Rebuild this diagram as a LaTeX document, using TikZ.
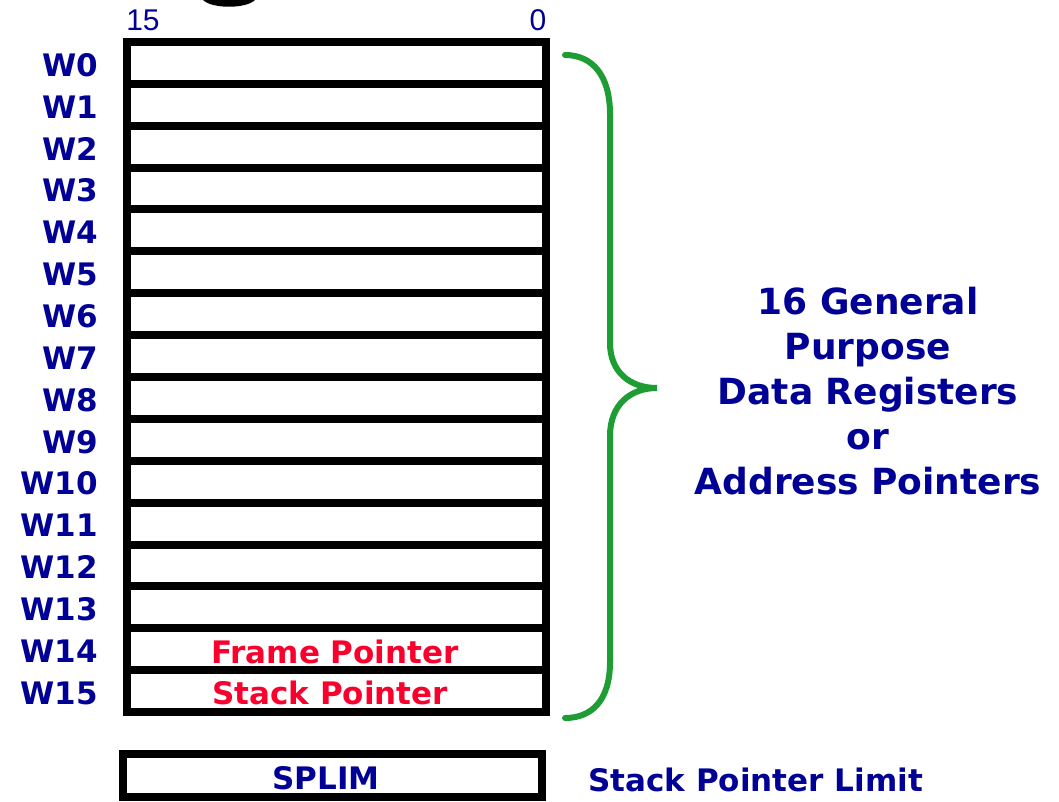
\documentclass[tikz,border=0pt]{standalone}
\usepackage{fontspec}
\setmainfont{DejaVu Sans}
\newfontfamily\arialf{Liberation Sans}
\definecolor{dblue}{RGB}{0,0,150}
\definecolor{pred}{RGB}{250,0,45}
\definecolor{bgreen}{RGB}{30,157,52}
\tikzset{
  regbox/.style={draw=black, line width=8pt, fill=white, minimum width=419pt, minimum height=41.875pt, inner sep=0pt},
  wlabel/.style={anchor=east, text=dblue, font=\fontsize{31}{36}\selectfont\bfseries, inner sep=0pt},
  bitlabel/.style={text=dblue, font=\arialf\fontsize{30}{34}\selectfont, inner sep=0pt},
  redtext/.style={text=pred, font=\fontsize{31}{36}\selectfont\bfseries, inner sep=0pt},
  bluetext/.style={text=dblue, font=\fontsize{31}{36}\selectfont\bfseries, inner sep=0pt},
  bigtext/.style={text=dblue, font=\fontsize{36}{45}\selectfont\bfseries, align=center, inner sep=0pt},
  bracestyle/.style={draw=bgreen, line width=6pt, line cap=round}
}
\begin{document}
\begin{tikzpicture}[x=1pt,y=-1pt]
\useasboundingbox (0,0) rectangle (1059,802);
\fill[white] (0,0) rectangle (1059,802);
% cut-off title glyph
\fill[black] (203,0) .. controls (212,9) and (246,9) .. (255,0) -- cycle;
% registers
\foreach \i in {0,...,15} {
  \node[regbox] (r\i) at (336.5, {42+41.875*(\i+0.5)}) {};
  \node[wlabel] (w\i) at (98, {42+41.875*(\i+0.5)+2}) {W\i};
}
\node[redtext] (fp) at (335,652) {Frame Pointer};
\node[redtext] (sp) at (330,693) {Stack Pointer};
\node[bitlabel] (b15) at (143,20) {15};
\node[bitlabel] (b0) at (538,20) {0};
% SPLIM
\node[regbox, minimum height=43.5pt] (splim) at (332,775.25) {};
\node[bluetext] (splimt) at (326,778) {SPLIM};
\node[bluetext, anchor=west] (spl) at (588,780) {Stack Pointer Limit};
% brace
\coordinate (bt) at (565,55);
\coordinate (bb) at (565,718);
\coordinate (tip) at (657,388);
\draw[bracestyle] (bt) .. controls (592,55) and (610,75) .. (610,114) -- (610,343)
   .. controls (610,372) and (630,388) .. (tip)
   .. controls (630,388) and (610,405) .. (610,436) -- (610,662)
   .. controls (610,700) and (592,718) .. (bb);
\node[bigtext] (desc) at (868,391) {16 General\\Purpose\\Data Registers\\or\\Address Pointers};
\end{tikzpicture}
\end{document}
